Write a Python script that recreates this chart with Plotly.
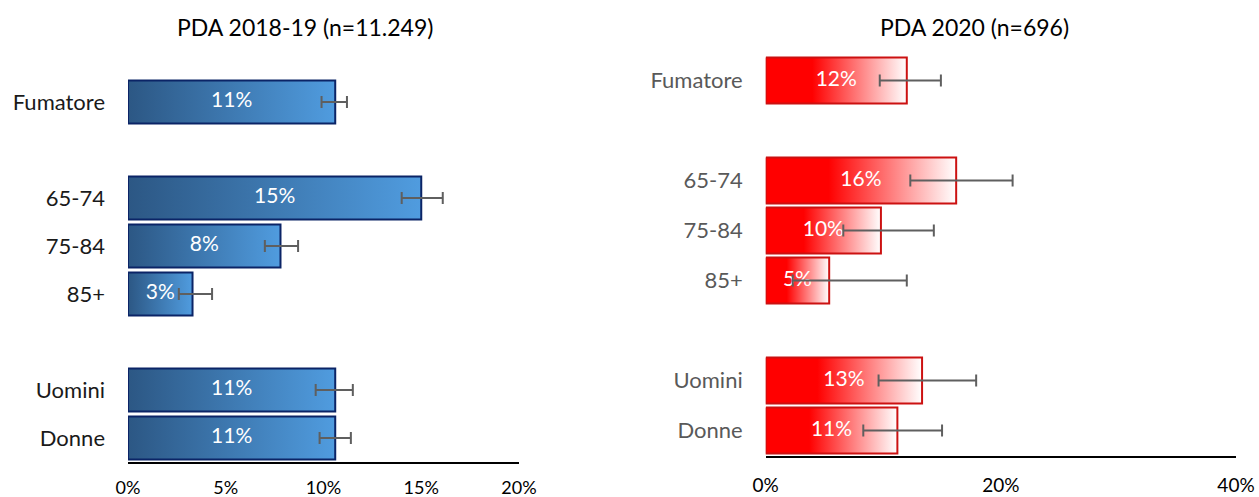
import plotly.graph_objects as go

# ---- data -------------------------------------------------------------
groups = [["Fumatore"], ["65-74", "75-84", "85+"], ["Uomini", "Donne"]]

pda1819_title = "PDA 2018-19 (n=11.249)"
pda1819_value = [10.6, 15.0, 7.8, 3.3, 10.6, 10.6]
pda1819_low = [9.9, 14.0, 7.0, 2.6, 9.6, 9.8]
pda1819_high = [11.2, 16.1, 8.7, 4.3, 11.5, 11.4]

pda2020_title = "PDA 2020 (n=696)"
pda2020_value = [12.0, 16.2, 9.8, 5.4, 13.3, 11.2]
pda2020_low = [9.7, 12.3, 6.6, 2.3, 9.6, 8.3]
pda2020_high = [14.9, 21.0, 14.3, 12.0, 17.9, 15.0]

ticks_1819 = [0, 5, 10, 15, 20]
ticks_2020 = [0, 20, 40]

# ---- slot positions: one blank slot between groups --------------------
labels, positions = [], []
slot = 0
for g in groups:
    for name in g:
        labels.append(name)
        positions.append(slot)
        slot += 1
    slot += 1
last_slot = max(positions)

FONT = "Lato"
fig = go.Figure()


def add_panel(values, low, high, xa, ya, colorscale, border, bar_h):
    for v, p in zip(values, positions):
        fig.add_trace(go.Scatter(
            x=[0, v, v, 0, 0],
            y=[p - bar_h / 2, p - bar_h / 2, p + bar_h / 2, p + bar_h / 2, p - bar_h / 2],
            mode="lines", fill="toself",
            fillgradient=dict(type="horizontal", colorscale=colorscale),
            line=dict(color=border, width=2),
            xaxis=xa, yaxis=ya, hoverinfo="skip", showlegend=False,
        ))
    fig.add_trace(go.Scatter(
        x=[v / 2 for v in values], y=positions,
        text=[f"{int(v + 0.5)}%" for v in values],
        mode="text", textfont=dict(family=FONT, size=21, color="white"),
        xaxis=xa, yaxis=ya, hoverinfo="skip", showlegend=False,
    ))
    fig.add_trace(go.Scatter(
        x=values, y=positions, mode="markers",
        marker=dict(size=1, opacity=0),
        error_x=dict(type="data", symmetric=False,
                     array=[h - v for h, v in zip(high, values)],
                     arrayminus=[v - l for v, l in zip(values, low)],
                     color="#5f5f5f", thickness=2, width=6),
        xaxis=xa, yaxis=ya, hoverinfo="skip", showlegend=False,
    ))


add_panel(pda1819_value, pda1819_low, pda1819_high, "x", "y",
          [[0, "#2c5784"], [1, "#509cdf"]], "#0b2466", 0.9)
add_panel(pda2020_value, pda2020_low, pda2020_high, "x2", "y2",
          [[0, "#ff0000"], [0.33, "#ff0000"], [1, "#ffffff"]], "#cc1111", 0.92)

W, H = 1259, 497

common_x = dict(showgrid=False, zeroline=False, showline=True, linecolor="black",
                linewidth=2, ticks="", automargin=False)
common_y = dict(showgrid=False, zeroline=False, showline=False, ticks="",
                automargin=False, range=[last_slot + 0.5, -0.5],
                tickvals=positions, ticktext=labels, ticklabelstandoff=22)

fig.update_layout(
    width=W, height=H, margin=dict(l=0, r=0, t=0, b=0),
    paper_bgcolor="white", plot_bgcolor="white",
    font=dict(family=FONT, color="black"),
    xaxis=dict(domain=[128 / W, 519 / W], range=[0, 20],
               tickvals=ticks_1819, ticktext=[f"{t}%" for t in ticks_1819],
               tickfont=dict(size=18, color="black"), ticklabelstandoff=8, **common_x),
    yaxis=dict(domain=[(H - 462) / H, (H - 78) / H],
               tickfont=dict(size=22, color="#1a1a1a"), **common_y),
    xaxis2=dict(domain=[765.7 / W, 1236 / W], range=[0, 40], anchor="y2",
                tickvals=ticks_2020, ticktext=[f"{t}%" for t in ticks_2020],
                tickfont=dict(size=19, color="black"), ticklabelstandoff=12, **common_x),
    yaxis2=dict(domain=[(H - 455.5) / H, (H - 55.5) / H], anchor="x2",
                tickfont=dict(size=22, color="#595959"), **common_y),
    annotations=[
        dict(text=pda1819_title, x=305 / W, y=(H - 27) / H, xref="paper", yref="paper",
             showarrow=False, font=dict(size=23, color="black"), xanchor="center", yanchor="middle"),
        dict(text=pda2020_title, x=974.5 / W, y=(H - 27) / H, xref="paper", yref="paper",
             showarrow=False, font=dict(size=23, color="black"), xanchor="center", yanchor="middle"),
    ],
)

fig.write_html("out.html")
